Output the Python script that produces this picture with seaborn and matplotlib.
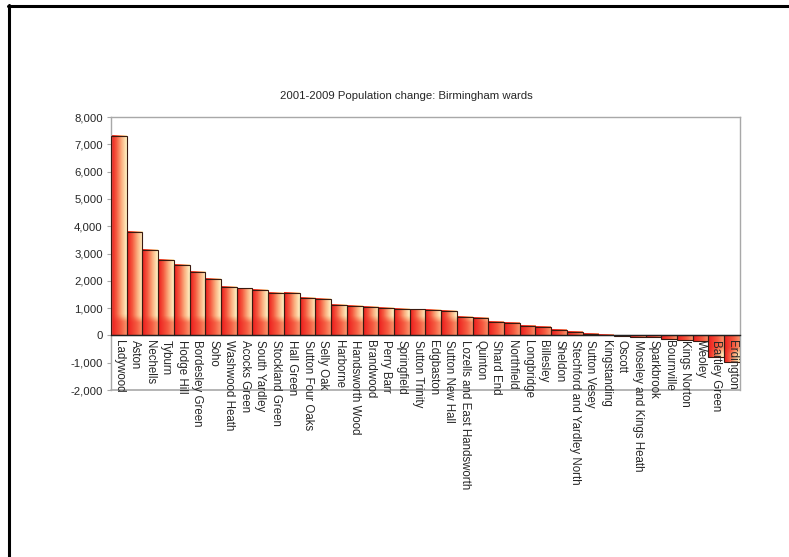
import numpy as np
import pandas as pd
import matplotlib
matplotlib.use("Agg")
import matplotlib.pyplot as plt
import seaborn as sns
from matplotlib.colors import LinearSegmentedColormap
from matplotlib.ticker import FuncFormatter, MultipleLocator

# Birmingham wards, population change 2001-2009
wards = [
    "Ladywood", "Aston", "Nechells", "Tyburn", "Hodge Hill", "Bordesley Green",
    "Soho", "Washwood Heath", "Acocks Green", "South Yardley", "Stockland Green",
    "Hall Green", "Sutton Four Oaks", "Selly Oak", "Harborne", "Handsworth Wood",
    "Brandwood", "Perry Barr", "Springfield", "Sutton Trinity", "Edgbaston",
    "Sutton New Hall", "Lozells and East Handsworth", "Quinton", "Shard End",
    "Northfield", "Longbridge", "Billesley", "Sheldon", "Stechford and Yardley North",
    "Sutton Vesey", "Kingstanding", "Oscott", "Moseley and Kings Heath",
    "Sparkbrook", "Bournville", "Kings Norton", "Weoley", "Bartley Green", "Erdington",
]
change = [
    7300, 3800, 3130, 2760, 2590, 2310,
    2070, 1790, 1720, 1660, 1570,
    1560, 1370, 1330, 1110, 1080,
    1040, 1010, 970, 950, 930,
    900, 670, 630, 500,
    450, 340, 310, 210, 120,
    70, 30, -10, -60,
    -60, -120, -160, -210, -800, -980,
]
title = "2001-2009 Population change: Birmingham wards"

df = pd.DataFrame({"ward": wards, "change": change})

sns.set_style("white")
plt.rcParams["font.family"] = ["Liberation Sans", "DejaVu Sans"]

fig = plt.figure(figsize=(7.89, 5.57), dpi=100)
ax = fig.add_axes([0.1407, 0.2998, 0.797, 0.490])

sns.barplot(data=df, x="ward", y="change", order=wards, width=1.0,
            color="#f04030", edgecolor="#3a1a10", linewidth=0.8, ax=ax,
            zorder=2)

# red -> cream gradient on each bar, a little redder near the baseline
cmap = LinearSegmentedColormap.from_list(
    "bar", ["#ec1c1c", "#f55a40", "#fbb080", "#fff2c4"])
for patch in ax.patches:
    x0, y0 = patch.get_x(), patch.get_y()
    w, h = patch.get_width(), patch.get_height()
    ylo, yhi = min(y0, y0 + h), max(y0, y0 + h)
    ys = np.linspace(ylo, yhi, 80)
    xs = np.linspace(0, 1, 32)
    grid = np.tile(xs, (len(ys), 1))
    band = np.clip((np.abs(ys) - 450) / 250, 0, 1)
    factor = 0.55 + 0.45 * band
    grid = grid * factor[:, None]
    ax.imshow(grid, cmap=cmap, vmin=0, vmax=1, aspect="auto",
              extent=[x0, x0 + w, ylo, yhi], origin="lower",
              clip_path=patch, zorder=2.5, interpolation="bilinear")
    patch.set_facecolor("none")
    patch.set_zorder(3)

ax.set_xlim(-0.5, len(wards) - 0.5)
ax.set_ylim(-2000, 8000)
ax.yaxis.set_major_locator(MultipleLocator(1000))
ax.yaxis.set_major_formatter(FuncFormatter(lambda v, p: f"{int(v):,}"))

# category axis sits on the zero line
ax.spines["bottom"].set_position(("data", 0))
ax.spines["bottom"].set_color("#202020")
ax.spines["bottom"].set_linewidth(1.0)
ax.spines["bottom"].set_zorder(4)
for side in ["top", "right", "left"]:
    ax.spines[side].set_color("#a8a8a8")
    ax.spines[side].set_linewidth(1.0)
ax.axhline(-2000, color="#a8a8a8", linewidth=1.2, clip_on=False, zorder=1)

ax.set_xticks(range(len(wards)))
ax.set_xticklabels(wards, rotation=-90, fontsize=8.3, va="top", ha="center")
ax.tick_params(axis="x", length=0, pad=3)
ax.tick_params(axis="y", labelsize=8.2, length=3, width=0.8, color="#a8a8a8",
               left=True, pad=3)
ax.xaxis.set_zorder(5)
ax.set_xlabel("")
ax.set_ylabel("")

fig.text(0.515, 1 - 96 / 557, title, ha="center", va="center", fontsize=8.2)

# black frame on left and top of the image
fig.add_artist(plt.Line2D([8.5 / 789, 8.5 / 789], [0, 1 - 5 / 557],
                          color="black", linewidth=2.2, transform=fig.transFigure))
fig.add_artist(plt.Line2D([7.5 / 789, 1], [1 - 5.5 / 557, 1 - 5.5 / 557],
                          color="black", linewidth=2.2, transform=fig.transFigure))

fig.savefig("out.png", dpi=100)
